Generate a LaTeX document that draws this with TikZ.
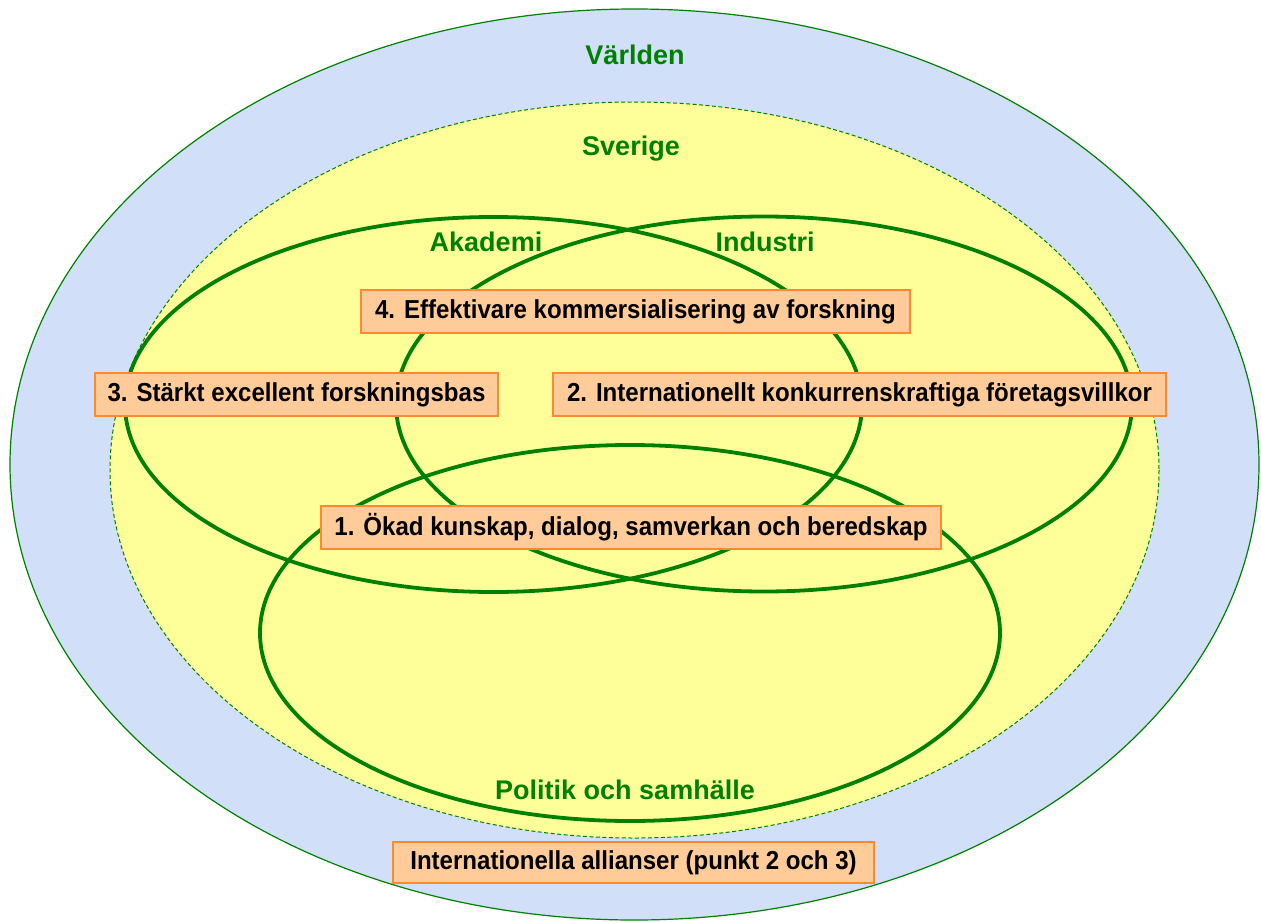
\documentclass[tikz,border=0pt]{standalone}
\usepackage{fontspec}
\setmainfont{Liberation Sans}
\newfontfamily\boxfont{Liberation Sans}[FakeStretch=0.925]
\definecolor{worldblue}{HTML}{D1DFF8}
\definecolor{swyellow}{HTML}{FFFF99}
\definecolor{lgreen}{HTML}{008000}
\definecolor{boxfill}{HTML}{FFCC99}
\definecolor{boxline}{HTML}{FF8A2E}
\tikzset{
  region/.style={draw=lgreen, line width=3.8pt},
  grlabel/.style={text=lgreen, font=\fontsize{27}{30}\selectfont\bfseries, inner sep=0pt},
  goalbox/.style={draw=boxline, fill=boxfill, line width=1.6pt, minimum height=43pt, inner sep=0pt,
    font=\boxfont\fontsize{26}{30}\selectfont\bfseries, text=black}
}
\begin{document}
\begin{tikzpicture}[x=1pt,y=-1pt]
\useasboundingbox (0,0) rectangle (1261,921);
% world
\path[fill=worldblue, draw=lgreen, line width=1.2pt] (634.5,464.5) ellipse [x radius=624.5, y radius=455.5];
% Sverige
\path[fill=swyellow, draw=lgreen, line width=1pt, dash pattern=on 4pt off 2.5pt] (634.5,470) ellipse [x radius=524.5, y radius=368];
% three regions
\draw[region] (493.5,404.5) ellipse [x radius=368.5, y radius=187.5];
\draw[region] (764,404) ellipse [x radius=368, y radius=187.5];
\draw[region] (630,633) ellipse [x radius=370, y radius=188];
% labels
\node[grlabel] (varlden) at (635,55) {Världen};
\node[grlabel] (sverige) at (631,149) {Sverige};
\node[grlabel] (akademi) at (486,242) {Akademi};
\node[grlabel] (industri) at (765,242) {Industri};
\node[grlabel] (politik) at (625,790) {Politik och samhälle};
% goal boxes
\node[goalbox, minimum width=549pt] (g4) at (635.5,311.5) {4. Effektivare kommersialisering av forskning};
\node[goalbox, minimum width=403pt] (g3) at (296.5,394.5) {3. Stärkt excellent forskningsbas};
\node[goalbox, minimum width=613pt] (g2) at (859.5,394.5) {2. Internationellt konkurrenskraftiga företagsvillkor};
\node[goalbox, minimum width=620pt] (g1) at (631,527.5) {1. Ökad kunskap, dialog, samverkan och beredskap};
\node[goalbox, minimum width=481pt, minimum height=41pt] (g5) at (633.5,862.5) {Internationella allianser (punkt 2 och 3)};
\end{tikzpicture}
\end{document}
